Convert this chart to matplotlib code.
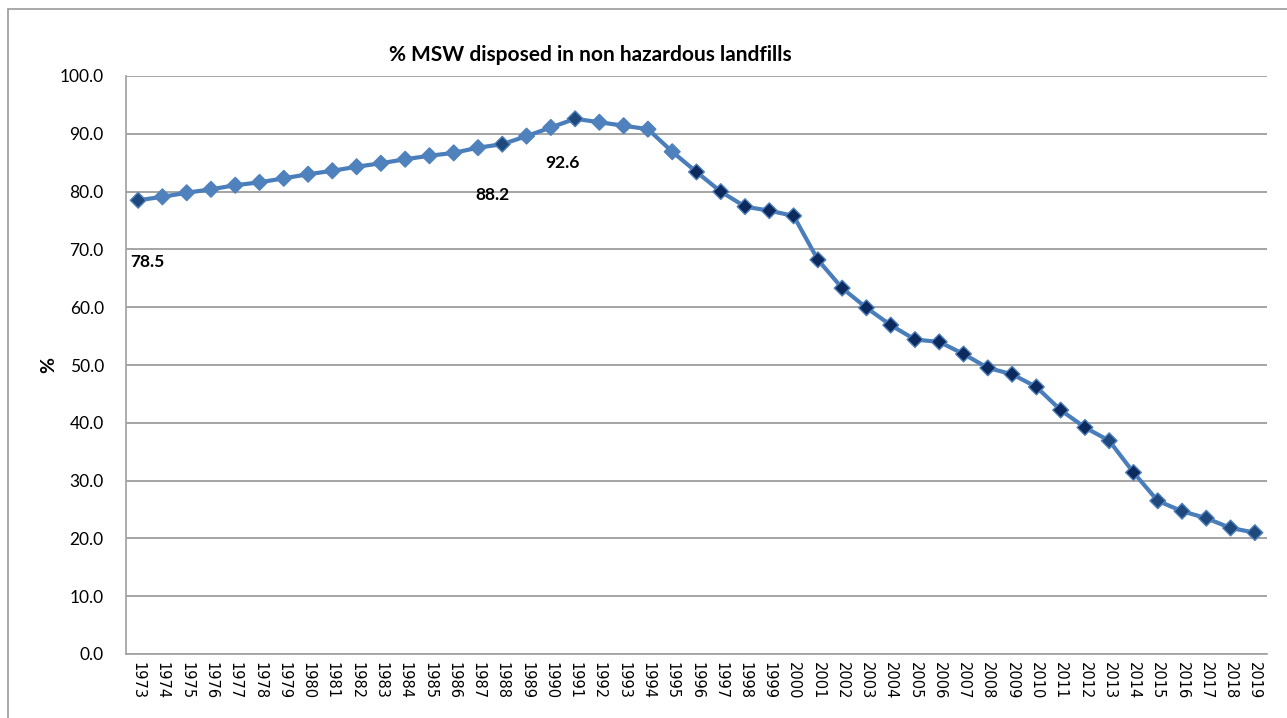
import matplotlib.pyplot as plt
from matplotlib.patches import Rectangle

years = list(range(1973, 2020))
pct_landfilled = [
    78.5, 79.1, 79.8, 80.4, 81.1, 81.6, 82.3, 83.0, 83.6, 84.3,
    84.9, 85.6, 86.2, 86.7, 87.6, 88.2, 89.6, 91.1, 92.6, 92.0,
    91.4, 90.8, 86.9, 83.4, 80.0, 77.4, 76.7, 75.8, 68.2, 63.3,
    59.9, 56.9, 54.4, 54.0, 51.9, 49.5, 48.4, 46.2, 42.2, 39.2,
    36.9, 31.4, 26.5, 24.7, 23.5, 21.8, 21.0,
]
labelled_years = [1973, 1988, 1991]
# label offsets in pixels relative to the point
label_offsets = {1973: (9, -62), 1988: (-10, -51), 1991: (-13, -44)}

light = "#4F81BD"
navy = "#0C2A5E"
mid = "#1F497D"


def marker_color(year):
    if year in (1973, 1988, 1991):
        return mid
    if 1996 <= year <= 2012 or year == 2014:
        return navy
    if year >= 2013:
        return mid
    return light


fig = plt.figure(figsize=(12.87, 7.18), dpi=100)
fig.patches.append(Rectangle((8 / 1287, -0.1), 1.2, 1.1 - 9 / 718,
                             transform=fig.transFigure, fill=False,
                             edgecolor="#9A9A9A", linewidth=1.2))

ax = fig.add_axes([126 / 1287, 1 - 654 / 718, 1141 / 1287, 578 / 718])
x = list(range(len(years)))

ax.plot(x, pct_landfilled, color="#4A7EBB", linewidth=3, zorder=3)
ax.scatter(x, pct_landfilled, marker="D", s=64,
           c=[marker_color(y) for y in years], edgecolors=light,
           linewidths=1.0, zorder=4)

for yr in labelled_years:
    i = years.index(yr)
    ax.annotate(f"{pct_landfilled[i]:.1f}", (i, pct_landfilled[i]),
                xytext=label_offsets[yr], textcoords="offset pixels",
                ha="center", va="center", fontsize=12.5,
                fontweight="bold", family="Lato")

ax.set_xlim(-0.5, len(years) - 0.5)
ax.set_ylim(0, 100)
ax.set_yticks(range(0, 101, 10))
ax.set_yticklabels([f"{v:.1f}" for v in range(0, 101, 10)],
                   fontsize=12.5, family="Lato")
ax.set_xticks(x)
ax.set_xticklabels([str(y) for y in years], rotation=270, fontsize=10.5,
                   family="DejaVu Sans")
ax.tick_params(axis="both", length=0, pad=6)
ax.tick_params(axis="y", pad=16)

ax.grid(axis="y", color="#8C8C8C", linewidth=1.1)
ax.set_axisbelow(True)
for side in ("top", "right"):
    ax.spines[side].set_visible(False)
for side in ("left", "bottom"):
    ax.spines[side].set_color("#A0A0A0")
    ax.spines[side].set_linewidth(1.2)

ax.set_ylabel("%", fontsize=14, fontweight="bold", family="Lato")
ax.yaxis.set_label_coords(-0.06, 0.5)
fig.text(590 / 1287, 1 - 55 / 718, "% MSW disposed in non hazardous landfills",
         ha="center", va="center", fontsize=15, fontweight="bold", family="Lato")

fig.savefig("out.png", dpi=100)
